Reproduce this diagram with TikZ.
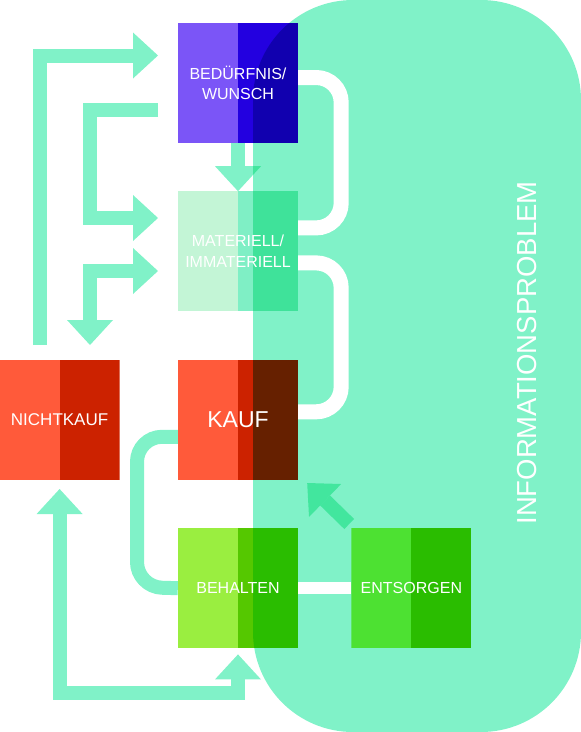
\documentclass[tikz,border=0pt]{standalone}
\usepackage{fontspec}
\setmainfont{Liberation Sans}
\usetikzlibrary{positioning,arrows.meta}

\definecolor{infoteal}{RGB}{128,242,200}
\definecolor{deepteal}{RGB}{66,230,158}
\definecolor{lilac}{RGB}{123,85,247}
\definecolor{royal}{RGB}{35,0,224}
\definecolor{mint}{RGB}{195,245,214}
\definecolor{seafoam}{RGB}{127,239,197}
\definecolor{coral}{RGB}{255,90,58}
\definecolor{brick}{RGB}{204,34,0}
\definecolor{lime}{RGB}{154,238,64}
\definecolor{leaf}{RGB}{85,200,0}

\begin{document}
\begin{tikzpicture}
            [%%%%%%%%%%%%%%%%%%%%%%%%%%%%%%%%%%%%%%%%%%%%%%%%%%%%%%%%%%
                x=1pt,y=-1pt,
                node distance=48pt,>={Triangle[width=46pt,length=25pt,line width=0pt]},
                box/.style 2 args={rectangle,minimum size=120pt,inner sep=0pt,
                              text=white,align=center,font=\fontsize{16}{20.5}\selectfont,
                              path picture={
                                \fill[#1,blend mode=multiply] (path picture bounding box.south west) rectangle (path picture bounding box.north);
                                \fill[#2,blend mode=multiply] (path picture bounding box.north) rectangle (path picture bounding box.south east);}},
                flow/.style={draw=infoteal,line width=14pt},
                wire/.style={draw=white,line width=15pt,rounded corners=25pt}
            ]%%%%%%%%%%%%%%%%%%%%%%%%%%%%%%%%%%%%%%%%%%%%%%%%%%%%%%%%%%
            \useasboundingbox (0,0) rectangle (581,732);
            \fill[infoteal,rounded corners=100pt] (253,0) rectangle (581,732);

            \node[box={lilac}{royal}] (wunsch) at (238,83) {BEDÜRFNIS/\\WUNSCH};
            \node[box={mint}{seafoam}] (materiell) [below=of wunsch] {MATERIELL/\\IMMATERIELL};
            \node[box={coral}{brick},font=\fontsize{23}{26}\selectfont] (kauf) [below=of materiell] {KAUF};
            \node[box={lime}{leaf}] (behalten) [below=of kauf] {BEHALTEN};
            \node[box={coral}{brick},font=\fontsize{17}{20}\selectfont] (nichtkauf) [left=58pt of kauf] {NICHTKAUF};
            \node[box={lime}{leaf}] (entsorgen) [right=53pt of behalten] {ENTSORGEN};
            \node[rotate=90,text=white,font=\fontsize{27.5}{30}\selectfont] (info) at (527,353) {INFORMATIONSPROBLEM};

            \coordinate (loopstart) at (40,345);
            \coordinate (topin) at (158,55.5);
            \coordinate (midout) at (158,110);
            \coordinate (midin) at (158,218);
            \coordinate (lowin) at (158,271);
            \coordinate (lowdown) at (90,345);
            \coordinate (bottom) at (150,693);

            \draw [flow,->] (loopstart) |- (topin);
            \draw [flow,->] (midout) -- ++(-68,0) |- (midin);
            \draw [flow,<->] (lowin) -| (lowdown);
            \draw [flow,->] (wunsch.south) -- (materiell.north);
            \draw [flow,<->] ([yshift=-9pt]nichtkauf.south) |- (bottom) -| ([yshift=-6pt]behalten.south);
            \draw [flow,rounded corners=25pt] ([yshift=-17pt]kauf.west) -| (137,587) -- (behalten.west);
            \draw [flow,draw=deepteal,->] ([shift={(-2pt,4pt)}]entsorgen.north west) -- ([shift={(9pt,-3pt)}]kauf.south east);
            % part of the arrow head lying on the big field
            \begin{scope}
                \clip[rounded corners=100pt] (253,0) rectangle (581,732);
                \draw [flow,draw=deepteal,->] (wunsch.south) -- (materiell.north);
            \end{scope}

            \draw [wire] ([yshift=5.5pt]wunsch.east) -| ([xshift=43pt,yshift=23.5pt]materiell.east) -- ([yshift=23.5pt]materiell.east);
            \draw [wire] ([yshift=-11.5pt]materiell.east) -| ([xshift=43pt,yshift=8pt]kauf.east) -- ([yshift=8pt]kauf.east);
            \draw [wire,line width=12pt] (behalten.east) -- (entsorgen.west);
        \end{tikzpicture}
\end{document}
